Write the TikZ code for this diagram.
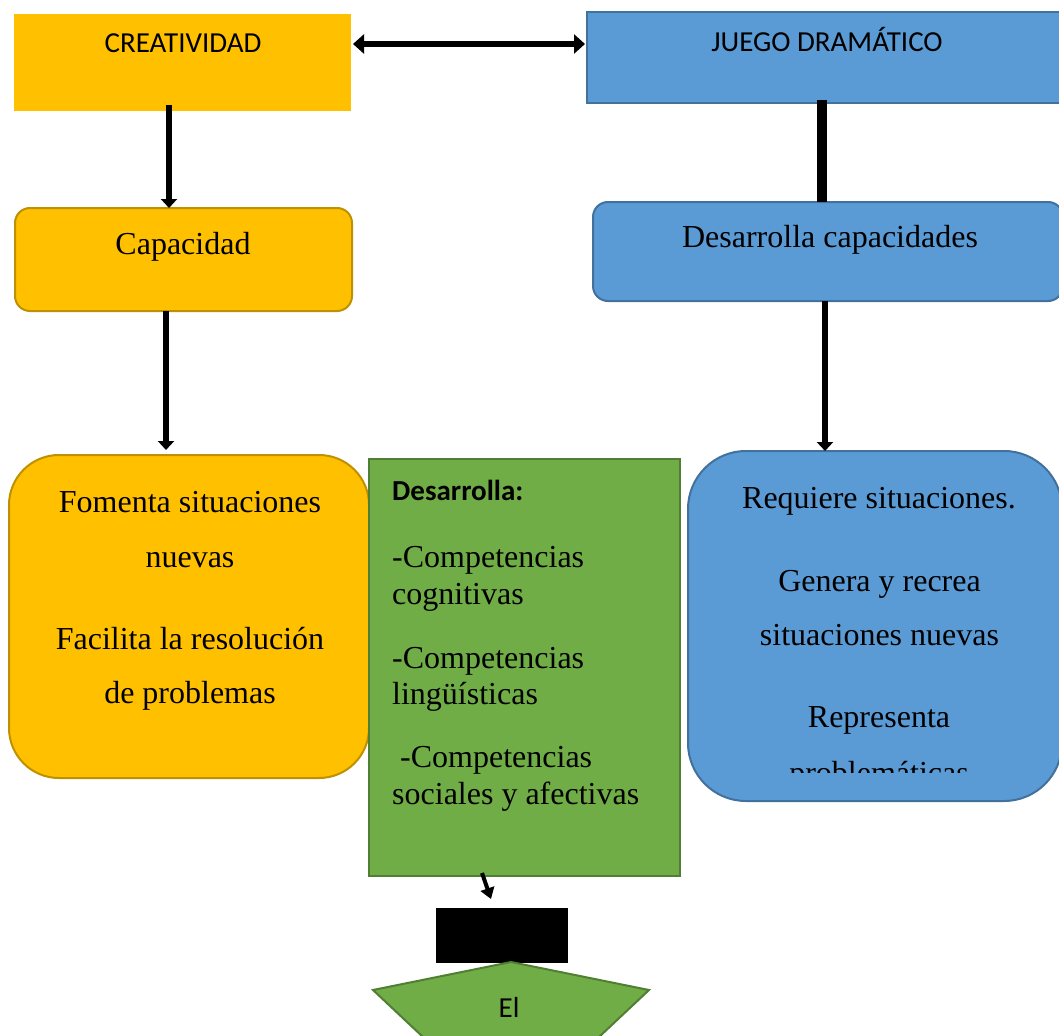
\documentclass[tikz,border=0pt]{standalone}
\usepackage{fontspec}
\setmainfont{Liberation Serif}
\newfontfamily\calibri{Carlito}
\usetikzlibrary{arrows.meta}
\definecolor{yel}{HTML}{FFC000}
\definecolor{yelb}{HTML}{BF9000}
\definecolor{blu}{HTML}{5B9BD5}
\definecolor{blub}{HTML}{41719C}
\definecolor{grn}{HTML}{70AD47}
\definecolor{grnb}{HTML}{507E32}
\begin{document}
\begin{tikzpicture}[x=1pt,y=-1pt,
  box/.style={draw, line width=2pt, anchor=north west, inner sep=0pt, outer sep=0pt},
  ybox/.style={box, fill=yel, draw=yelb},
  bbox/.style={box, fill=blu, draw=blub},
  gbox/.style={box, fill=grn, draw=grnb},
  serif/.style={font=\fontsize{32}{38}\selectfont, anchor=base, inner sep=0pt},
  sans/.style={font=\calibri\fontsize{29}{35}\selectfont, anchor=base, inner sep=0pt},
  arr/.style={line width=6pt, -{Triangle[width=16pt,length=9pt]}},
  dbl/.style={line width=6pt, {Triangle[width=19pt,length=11pt]}-{Triangle[width=19pt,length=11pt]}},
  thin arr/.style={line width=4pt, -{Triangle[width=14pt,length=11pt]}},
  link/.style={line width=10pt},
]
\useasboundingbox (0,0) rectangle (1059,1035);
\clip (0,0) rectangle (1059,1035);
\fill[white] (0,0) rectangle (1059,1035);

% boxes
\node[box, fill=yel, draw=yel, minimum width=335pt, minimum height=95pt] (crea) at (15,15) {};
\node[bbox, minimum width=485pt, minimum height=91pt] (juego) at (587,12) {};
\node[ybox, rounded corners=15pt, minimum width=337pt, minimum height=103pt] (capa) at (15,208) {};
\node[bbox, rounded corners=15pt, minimum width=470pt, minimum height=99pt] (desc) at (593,202) {};
\node[ybox, rounded corners=50pt, minimum width=360pt, minimum height=323pt] (fom) at (9,455) {};
\node[gbox, minimum width=311pt, minimum height=417pt] (green) at (369,459) {};
\node[bbox, rounded corners=58pt, minimum width=374pt, minimum height=350pt] (req) at (688,451) {};
\node[box, fill=black, draw=black, line width=1pt, minimum width=131pt, minimum height=54pt] (blk) at (436,908) {};
\draw[fill=grn, draw=grnb, line width=2pt] (511,962) -- (649,990) -- (599,1037) -- (423,1037) -- (373,990) -- cycle;

% texts
\node[sans] (tcrea) at (183,53) {CREATIVIDAD};
\node[sans] (tjuego) at (827,52) {JUEGO DRAMÁTICO};
\node[serif] (tcapa) at (183,254) {Capacidad};
\node[serif] (tdesc) at (830,247) {Desarrolla capacidades};

\node[serif] (f1) at (190,512) {Fomenta situaciones};
\node[serif] (f2) at (190,567) {nuevas};
\node[serif] (f3) at (190,649) {Facilita la resolución};
\node[serif] (f4) at (190,703) {de problemas};

\node[font=\calibri\bfseries\fontsize{29}{35}\selectfont, anchor=base west, inner sep=0pt] (g0) at (392,500) {Desarrolla:};
\node[serif, anchor=base west] (g1) at (392,567) {-Competencias};
\node[serif, anchor=base west] (g2) at (392,604) {cognitivas};
\node[serif, anchor=base west] (g3) at (392,668) {-Competencias};
\node[serif, anchor=base west] (g4) at (392,704) {lingüísticas};
\node[serif, anchor=base west] (g5) at (400,767) {-Competencias};
\node[serif, anchor=base west] (g6) at (392,804) {sociales y afectivas};

\node[serif] (r1) at (879,508) {Requiere situaciones.};
\node[serif] (r2) at (879.5,591) {Genera y recrea};
\node[serif] (r3) at (879.5,645) {situaciones nuevas};
\node[serif] (r4) at (879,727) {Representa};
\begin{scope}
  \clip (688,700) rectangle (1059,772);
  \node[serif] (r5) at (879,783) {problemáticas};
\end{scope}

\node[sans] (tel) at (509,1017) {El};

% connectors
\draw[dbl] ([xshift=3pt,yshift=18.5pt]crea.east) -- ([xshift=-2pt,yshift=13.5pt]juego.west);
\draw[arr] ([xshift=-13.5pt,yshift=5pt]crea.south) -- ([xshift=-14.5pt]capa.north);
\draw[arr] ([xshift=-17.5pt]capa.south) -- ([xshift=-23pt,yshift=5pt]fom.north);
\draw[link] ([xshift=-7.5pt,yshift=3pt]juego.south) -- ([xshift=-6pt]desc.north);
\draw[arr] ([xshift=-3pt]desc.south) -- ([xshift=-50pt]req.north);
\draw[thin arr] ([xshift=-42.5pt,yshift=3pt]green.south) -- ([xshift=-10.5pt,yshift=9pt]blk.north);
\end{tikzpicture}
\end{document}
